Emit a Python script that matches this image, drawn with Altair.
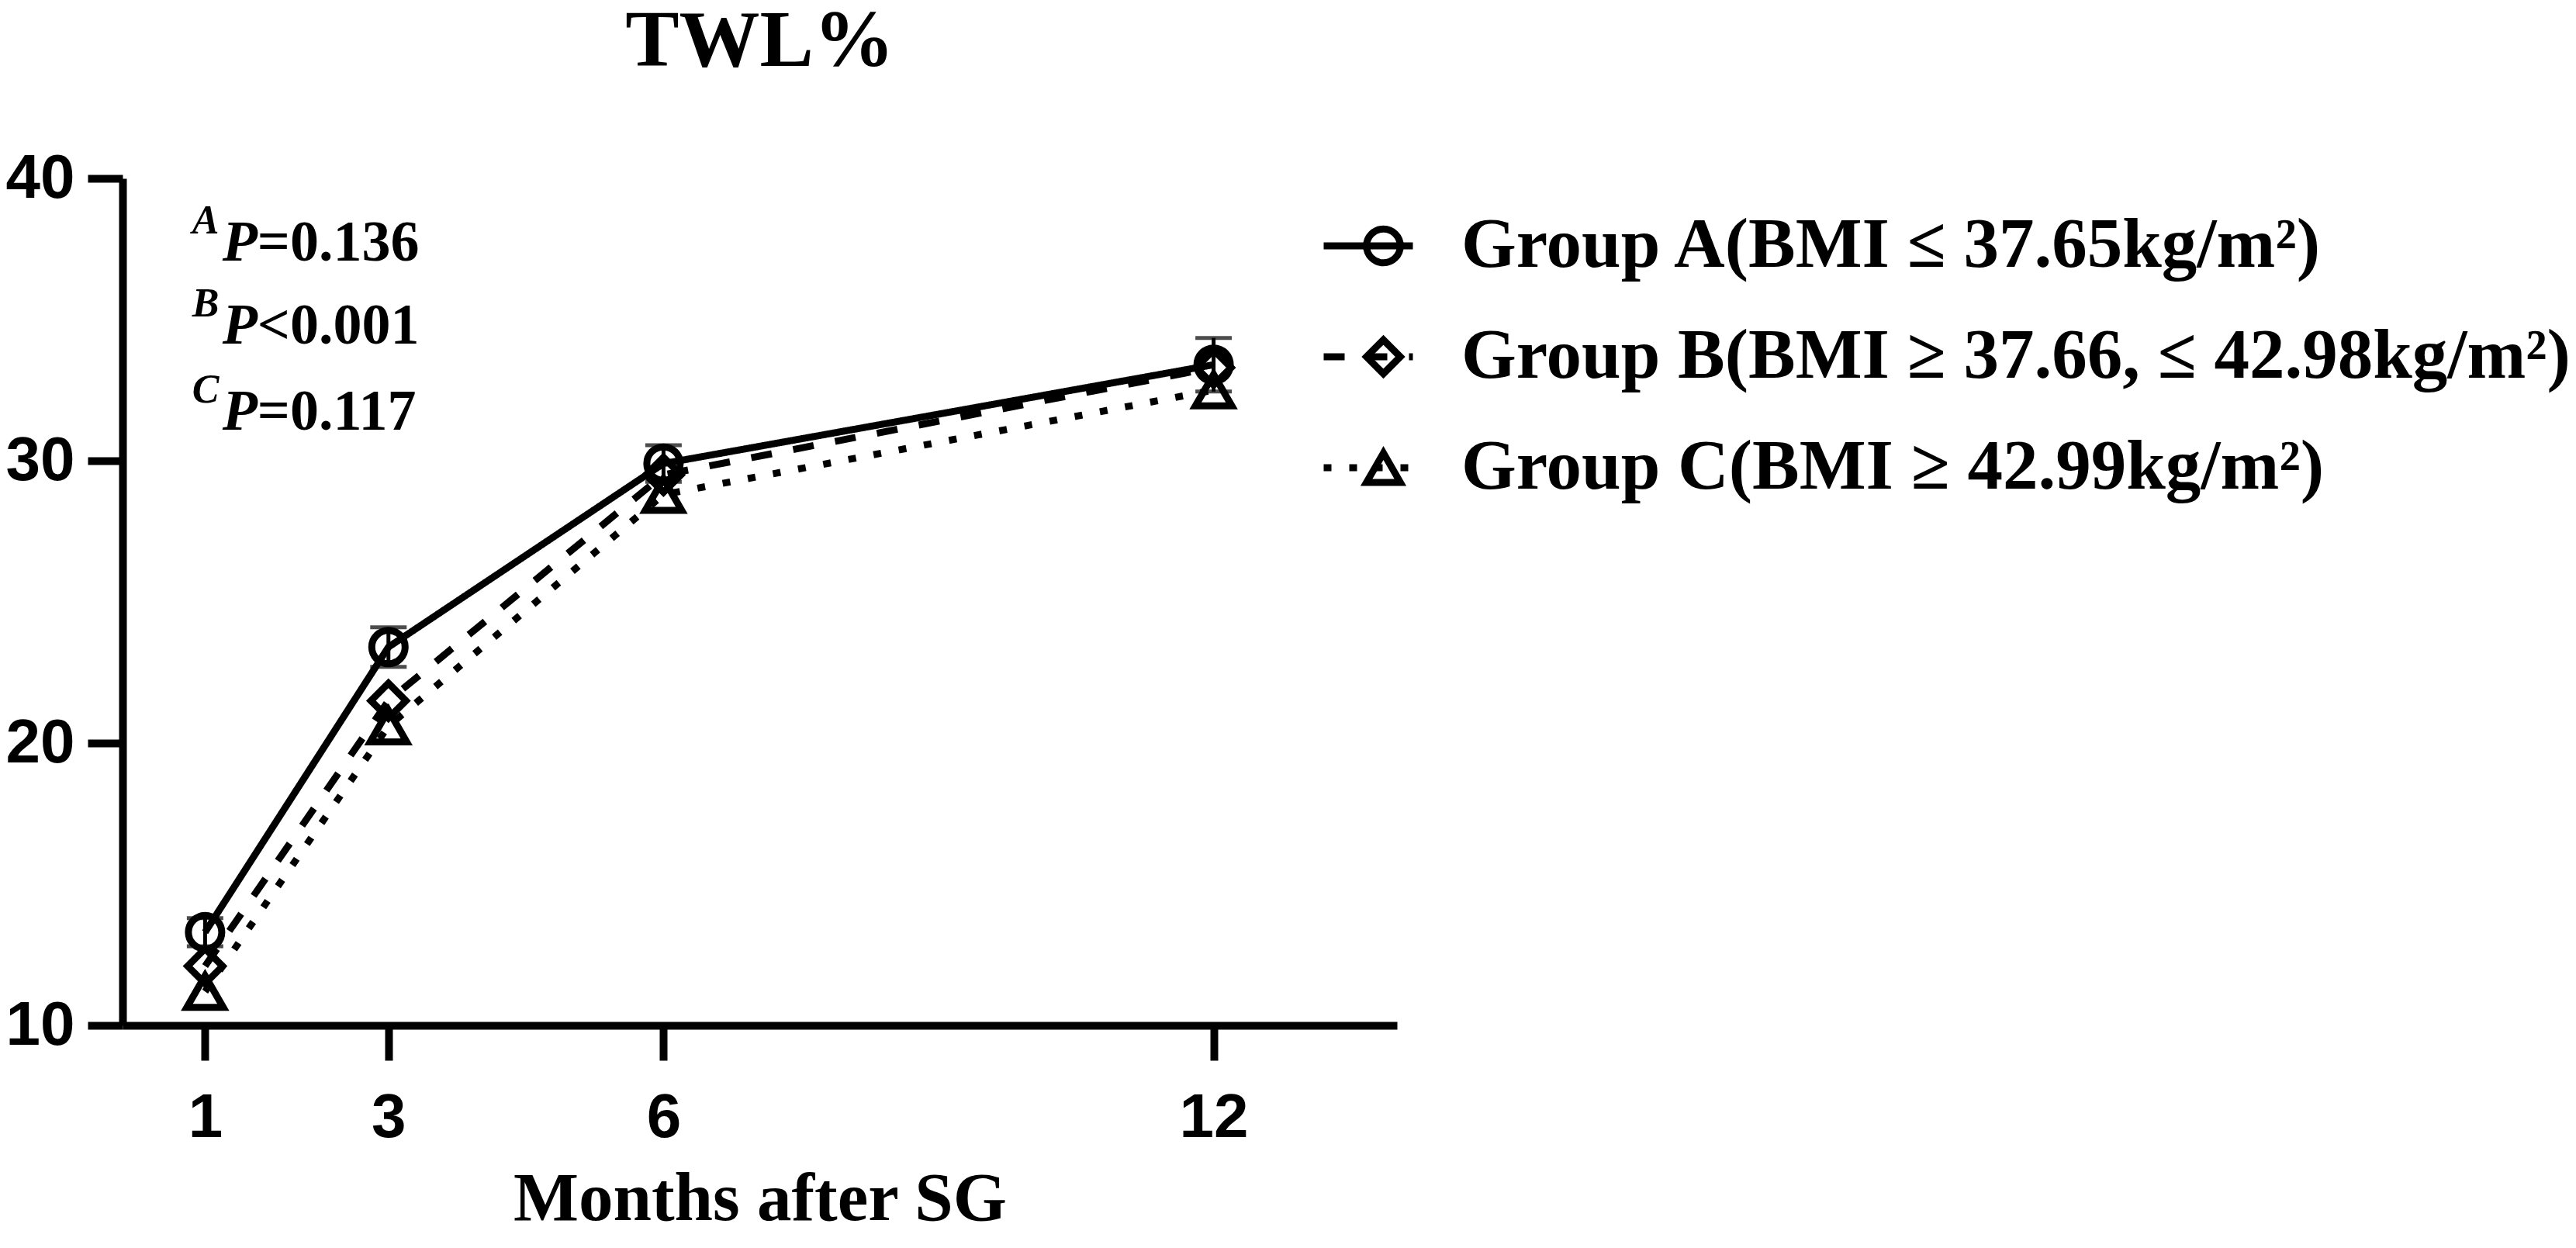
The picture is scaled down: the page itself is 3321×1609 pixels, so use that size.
import altair as alt
import pandas as pd

# ---------------- data ----------------
months = [1, 3, 6, 12]
group_labels = [
    "Group A(BMI ≤ 37.65kg/m²)",
    "Group B(BMI ≥ 37.66, ≤ 42.98kg/m²)",
    "Group C(BMI ≥ 42.99kg/m²)",
]
twl_a = [13.3, 23.4, 29.9, 33.4]
twl_b = [12.1, 21.5, 29.5, 33.3]
twl_c = [11.2, 20.6, 28.8, 32.5]
sem_a = [0.5, 0.7, 0.65, 0.95]

title_text = "TWL%"
x_title = "Months after SG"
x_ticks = [1, 3, 6, 12]
y_ticks = [10, 20, 30, 40]

p_sup = ["A", "B", "C"]
p_rest = ["=0.136", "<0.001", "=0.117"]
p_y = [37.1, 34.15, 31.1]
p_x = [1.19, 1.19, 1.19]
sup_x = [0.86, 0.86, 0.86]
sup_y = [38.06, 35.11, 32.06]

# ---------------- tables ----------------
rows = []
for g, vals in zip(group_labels, [twl_a, twl_b, twl_c]):
    for m, v in zip(months, vals):
        rows.append({"month": m, "twl": v, "group": g, "group_sym": g})
df = pd.DataFrame(rows)

err = pd.DataFrame({
    "month": months,
    "lo": [v - s for v, s in zip(twl_a, sem_a)],
    "hi": [v + s for v, s in zip(twl_a, sem_a)],
})
caps = pd.DataFrame({
    "month": months + months,
    "val": [v - s for v, s in zip(twl_a, sem_a)] + [v + s for v, s in zip(twl_a, sem_a)],
})
ann = pd.DataFrame({"px": p_x, "py": p_y, "sx": sup_x, "sy": sup_y,
                    "sup": p_sup, "rest": p_rest, "P": ["P"] * 3})

SERIF = "Liberation Serif"
SANS = "Liberation Sans"

xscale = alt.Scale(domain=[0.1, 14], nice=False, zero=False)
yscale = alt.Scale(domain=[10, 40], nice=False, zero=False)

x_enc = alt.X("month:Q", scale=xscale, axis=alt.Axis(
    values=x_ticks, title=x_title, format="d",
    titleFont=SERIF, titleFontSize=89, titleFontWeight="bold", titleColor="black",
    titlePadding=21,
    labelFont=SANS, labelFontSize=80, labelFontWeight="bold", labelColor="black",
    labelPadding=35, tickSize=45, tickWidth=10, tickColor="black",
    domainWidth=10, domainColor="black", grid=False, labelFlush=False))
y_enc = alt.Y("twl:Q", scale=yscale, axis=alt.Axis(
    values=y_ticks, title=None, format="d",
    labelFont=SANS, labelFontSize=80, labelFontWeight="bold", labelColor="black",
    labelPadding=17, tickSize=45, tickWidth=10, tickColor="black",
    domainWidth=10, domainColor="black", grid=False, labelFlush=False))

dash_legend = alt.Legend(
    title=None, orient="none", legendX=1544, legendY=37,
    symbolType="stroke", symbolSize=13225, symbolStrokeWidth=9,
    symbolStrokeColor="black",
    labelFont=SERIF, labelFontSize=91, labelFontWeight="bold", labelColor="black",
    labelOffset=58, rowPadding=43, clipHeight=100, labelLimit=3000, zindex=1)
shape_legend = alt.Legend(
    title=None, orient="none", legendX=1580, legendY=37,
    symbolSize=1900, symbolStrokeWidth=9, symbolStrokeColor="black",
    symbolFillColor="transparent", labelExpr="''",
    labelFont=SERIF, labelFontSize=91, labelFontWeight="bold", labelOpacity=0,
    labelOffset=58, rowPadding=43, clipHeight=100, zindex=2)

lines = alt.Chart(df).mark_line(color="black", strokeWidth=9).encode(
    x=x_enc, y=y_enc,
    strokeDash=alt.StrokeDash("group:N", scale=alt.Scale(
        domain=group_labels, range=[[1, 0], [27, 28], [10, 23]]), legend=dash_legend),
    detail="group:N",
)

points = alt.Chart(df).mark_point(filled=False, color="black", strokeWidth=9, opacity=1).encode(
    x="month:Q", y="twl:Q",
    shape=alt.Shape("group_sym:N", scale=alt.Scale(
        domain=group_labels, range=["circle", "diamond", "triangle-up"]), legend=shape_legend),
    size=alt.Size("group_sym:N", scale=alt.Scale(
        domain=group_labels, range=[1850, 2200, 2300]), legend=None),
)

bars = alt.Chart(err).mark_rule(color="black", strokeWidth=5).encode(
    x="month:Q", y="lo:Q", y2="hi:Q")
cap_marks = alt.Chart(caps).mark_tick(orient="horizontal", size=47, thickness=5, color="black").encode(
    x="month:Q", y="val:Q")

sup_text = alt.Chart(ann).mark_text(
    align="left", baseline="alphabetic", font=SERIF, fontStyle="italic",
    fontWeight="bold", fontSize=52, color="black").encode(
    x="sx:Q", y="sy:Q", text="sup:N")
p_text = alt.Chart(ann).mark_text(
    align="left", baseline="alphabetic", font=SERIF, fontStyle="italic",
    fontWeight="bold", fontSize=74, color="black").encode(
    x="px:Q", y="py:Q", text="P:N")
rest_text = alt.Chart(ann).mark_text(
    align="left", baseline="alphabetic", font=SERIF, dx=45,
    fontWeight="bold", fontSize=74, color="black").encode(
    x="px:Q", y="py:Q", text="rest:N")

chart = alt.layer(lines, bars, cap_marks, points, sup_text, p_text, rest_text).resolve_legend(
    strokeDash="independent", shape="independent"
).properties(
    width=1643, height=1092,
    title=alt.TitleParams(title_text, font=SERIF, fontSize=104, fontWeight="bold",
                          color="black", anchor="middle", offset=83),
    autosize=alt.AutoSizeParams(type="none"),
    padding={"left": 150, "top": 222, "right": 1512, "bottom": 279},
    background="white",
).configure_view(stroke=None)

chart.save("out.html", embed_options={"renderer": "svg", "actions": False})
